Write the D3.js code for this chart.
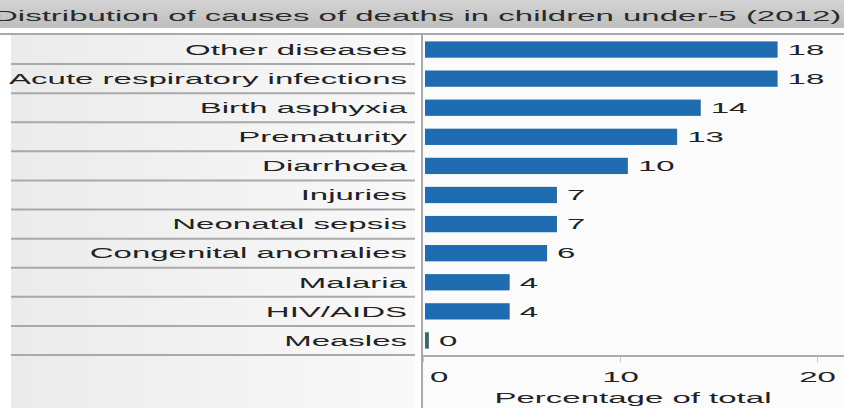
<!DOCTYPE html>
<html>
<head>
<meta charset="utf-8">
<script src="https://cdn.jsdelivr.net/npm/d3@7"></script>
<style>
  body { margin: 0; background: #fff; }
  text { font-family: "Liberation Sans", Arial, sans-serif; }
</style>
</head>
<body>
<div id="chart"></div>
<script>

/* - - - data - - - */
var title = "Distribution of causes of deaths in children under-5 (2012)";
var causes = ["Other diseases", "Acute respiratory infections", "Birth asphyxia", "Prematurity",
              "Diarrhoea", "Injuries", "Neonatal sepsis", "Congenital anomalies",
              "Malaria", "HIV/AIDS", "Measles"];
var percents = [18, 18, 14.1, 12.9, 10.4, 6.8, 6.8, 6.3, 4.4, 4.4, 0.3];
var xTicks = [0, 10, 20];
var xTitle = "Percentage of total";

/* - - - setup - - - */
var width = 844, height = 408;
var stretch = 2.2;   // the reference text is drawn very wide

var svg = d3.select('#chart').append('svg')
    .attr('width', width)
    .attr('height', height);

var defs = svg.append('defs');
var g1 = defs.append('linearGradient').attr('id', 'titleBg').attr('x1', 0).attr('x2', 0).attr('y1', 0).attr('y2', 1);
g1.append('stop').attr('offset', 0).attr('stop-color', '#d4d4d4');
g1.append('stop').attr('offset', 1).attr('stop-color', '#bdbdbd');
var g2 = defs.append('linearGradient').attr('id', 'panelBg');
g2.append('stop').attr('offset', 0).attr('stop-color', '#ebebeb');
g2.append('stop').attr('offset', 1).attr('stop-color', '#f9f9f9');

var x = d3.scaleLinear().domain([0, 20]).range([423, 817]);
var y = d3.scaleBand().domain(causes).range([35, 355]).paddingInner(0.44).paddingOuter(0.22);

function wide(sel, tx, ty) {
    return sel.attr('transform', function (d, i) {
        var px = typeof tx === 'function' ? tx(d, i) : tx;
        var py = typeof ty === 'function' ? ty(d, i) : ty;
        return 'translate(' + px + ',' + py + ') scale(' + stretch + ',1)';
    });
}

/* - - - title - - - */
svg.append('rect').attr('x', 0).attr('y', 0).attr('width', width).attr('height', 28)
    .attr('fill', 'url(#titleBg)');
svg.append('text').text(title)
    .attr('font-size', 15).attr('fill', '#2a2a2a')
    .call(wide, -6, 21);

/* - - - label panel - - - */
svg.append('rect').attr('x', 11).attr('y', 35).attr('width', 404).attr('height', height - 35)
    .attr('fill', 'url(#panelBg)');
svg.append('rect').attr('x', 423).attr('y', 35).attr('width', width - 423).attr('height', height - 35)
    .attr('fill', '#fbfbfc');

// row separators
svg.selectAll('.sep')
   .data(causes)
   .enter()
   .append('line')
   .attr('class', 'sep')
   .attr('x1', 11).attr('x2', 415)
   .attr('y1', function (d) { return y(d) - y.step() * y.paddingOuter() + y.step(); })
   .attr('y2', function (d) { return y(d) - y.step() * y.paddingOuter() + y.step(); })
   .attr('stroke', '#a9a9a9').attr('stroke-width', 2);

// full width line under the title
svg.append('line').attr('x1', 0).attr('x2', width).attr('y1', 34).attr('y2', 34)
    .attr('stroke', '#a9a9a9').attr('stroke-width', 2);

svg.selectAll('.cat')
   .data(causes)
   .enter()
   .append('text')
   .attr('class', 'cat')
   .attr('text-anchor', 'end')
   .attr('dy', '0.35em')
   .attr('font-size', 15).attr('fill', '#222')
   .text(function (d) { return d; })
   .call(wide, 407, function (d) { return y(d) + y.bandwidth() / 2; });

/* - - - bars - - - */
svg.selectAll('.bar')
   .data(percents)
   .enter()
   .append('rect')
   .attr('class', 'bar')
   .attr('x', x(0) + 2)
   .attr('y', function (d, i) { return y(causes[i]); })
   .attr('width', function (d) { return Math.max(0, x(d) - x(0) - 2); })
   .attr('height', y.bandwidth())
   .attr('fill', function (d) { return d < 1 ? '#3d6672' : '#1f6db0'; });

svg.selectAll('.val')
   .data(percents)
   .enter()
   .append('text')
   .attr('class', 'val')
   .attr('dy', '0.35em')
   .attr('font-size', 15).attr('fill', '#222')
   .text(function (d) { return Math.round(d); })
   .call(wide, function (d) { return x(d) + 10; },
               function (d, i) { return y(causes[i]) + y.bandwidth() / 2; });

/* - - - axes - - - */
svg.append('line').attr('x1', 422).attr('x2', 422).attr('y1', 34).attr('y2', height)
    .attr('stroke', '#a9a9a9').attr('stroke-width', 2);
svg.append('line').attr('x1', 422).attr('x2', width).attr('y1', 356).attr('y2', 356)
    .attr('stroke', '#a9a9a9').attr('stroke-width', 2);

var xAxis = svg.append('g')
    .attr('transform', 'translate(0,356)')
    .call(d3.axisBottom(x).tickValues(xTicks).tickSize(6).tickSizeOuter(0).tickPadding(9));
xAxis.select('.domain').remove();
xAxis.selectAll('line').attr('stroke', '#c4c4c4');
xAxis.selectAll('text')
    .attr('font-size', 15).attr('fill', '#222')
    .attr('font-family', '"Liberation Sans", Arial, sans-serif')
    .attr('transform', 'scale(' + stretch + ',1)')
    .attr('text-anchor', function (d) { return d === 0 ? 'start' : 'middle'; })
    .attr('x', function (d) { return d === 0 ? 3 : 0; });

svg.append('text').text(xTitle)
    .attr('text-anchor', 'middle')
    .attr('font-size', 15).attr('fill', '#222')
    .call(wide, 633, 403);

</script>
</body>
</html>
